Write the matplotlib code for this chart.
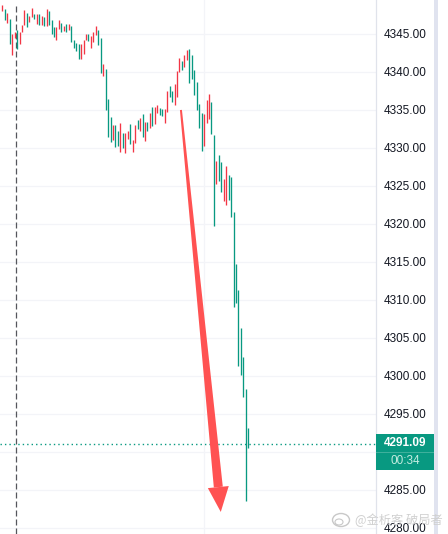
import matplotlib

matplotlib.use("Agg")
import matplotlib.pyplot as plt
import numpy as np
from matplotlib.patches import Ellipse, Polygon, Rectangle
from matplotlib.transforms import IdentityTransform, blended_transform_factory

plt.rcParams["font.family"] = ["Liberation Sans", "DejaVu Sans"]

W, H = 448, 534

# bar ranges, "R" = up candle, "G" = down candle
highs = [
    4348.8, 4348.3, 4347.8, 4347.0, 4345.0, 4345.3, 4345.5, 4345.3, 4346.2, 4348.2,
    4347.8, 4347.4, 4348.4, 4347.6, 4347.6, 4347.6, 4347.4, 4347.2, 4348.3, 4348.0,
    4346.8, 4345.9, 4345.9, 4346.8, 4346.4, 4346.0, 4346.3, 4346.3, 4346.0, 4344.2,
    4343.8, 4343.7, 4343.7, 4344.2, 4345.0, 4345.0, 4344.7, 4345.3, 4346.0, 4345.5,
    4344.5, 4341.0, 4340.4, 4336.4, 4334.1, 4333.0, 4333.0, 4332.2, 4333.3, 4332.0,
    4332.0, 4332.2, 4333.2, 4331.1, 4333.0, 4333.7, 4333.9, 4334.5, 4333.4, 4333.4,
    4334.6, 4335.4, 4335.4, 4335.7, 4335.3, 4335.1, 4335.1, 4337.5, 4338.2, 4337.5,
    4338.4, 4340.1, 4341.8, 4341.4, 4342.2, 4342.9, 4343.0, 4342.2, 4340.3, 4338.7,
    4335.8, 4334.6, 4334.5, 4336.3, 4337.1, 4336.0, 4331.7, 4328.3, 4329.1, 4328.2,
    4325.9, 4327.6, 4326.4, 4326.2, 4321.6, 4314.7, 4311.3, 4306.3, 4302.5, 4298.3,
    4293.2,
]
lows = [
    4348.0, 4346.8, 4346.4, 4343.7, 4342.2, 4344.5, 4343.0, 4343.7, 4345.3, 4346.2,
    4345.9, 4346.6, 4347.2, 4347.0, 4346.3, 4346.2, 4346.2, 4346.0, 4346.0, 4346.2,
    4345.0, 4344.6, 4344.2, 4345.7, 4345.3, 4345.4, 4345.3, 4345.5, 4344.0, 4343.2,
    4342.8, 4341.7, 4341.7, 4342.4, 4344.2, 4344.1, 4343.2, 4344.0, 4344.9, 4343.5,
    4339.9, 4339.5, 4335.0, 4331.4, 4330.8, 4331.0, 4330.1, 4330.3, 4329.5, 4330.0,
    4329.3, 4331.2, 4330.5, 4329.5, 4330.7, 4332.5, 4332.2, 4331.5, 4330.9, 4332.2,
    4332.6, 4332.9, 4333.2, 4334.6, 4334.3, 4334.2, 4333.3, 4334.7, 4336.7, 4336.1,
    4335.7, 4336.7, 4340.0, 4340.3, 4340.7, 4341.6, 4338.6, 4339.1, 4337.0, 4335.0,
    4332.6, 4329.6, 4330.3, 4333.3, 4333.8, 4331.8, 4319.7, 4325.3, 4325.7, 4324.2,
    4323.0, 4322.5, 4323.2, 4320.9, 4309.1, 4309.6, 4301.3, 4300.1, 4297.2, 4283.6,
    4290.5,
]
sides = (
    "RGRGRRGRRR" "GRRGRGRGRG" "GGRRGRGRGG" "GGRRRGRRRG" "GRGGGRGGRG"
    "RRGRRGRGRG" "RGRRGGRRGG" "RRRGRRGGGG" "GGRRRGGRGG" "RRGGGGGGGGG"
)
price_ticks = [4345, 4340, 4335, 4330, 4325, 4320, 4315, 4310, 4305, 4300, 4295, 4290, 4285, 4280]
last_price = 4291.09
countdown = "00:34"
session_bar = 5.7
grid_bar = 82
arrow_from = (72.6, 4335.0)
arrow_to = (88.8, 4282.1)

RED = "#f23645"
GREEN = "#089981"
GRID = "#f3f4f8"
BORDER = "#e0e3eb"

fig = plt.figure(figsize=(W / 100, H / 100), dpi=100, facecolor="white")
ax = fig.add_axes([0, 0, 376 / W, 1])
ax.set_xlim(-0.95, 151.9)
ax.set_ylim(4279.2, 4349.47)

# grid
for p in price_ticks:
    ax.axhline(p, color=GRID, lw=0.9, zorder=0)
ax.axvline(grid_bar, color=GRID, lw=0.9, zorder=0)

# session break
ax.axvline(session_bar, ymax=0.99, color="#55565c", lw=0.9, ls=(0, (4.8, 2.4)), zorder=1)

# bars
xs = np.arange(len(highs))
colors = [RED if s == "R" else GREEN for s in sides]
ax.vlines(xs, lows, highs, colors=colors, lw=0.95, zorder=2, capstyle="butt")

# last price line
ax.axhline(last_price, color=GREEN, lw=1.0, ls=(0, (1, 2.2)), zorder=2)

# hand drawn arrow, built in screen pixels from its two ends
p0, p1 = ax.transData.transform([arrow_from, arrow_to])
d = (p1 - p0) / np.hypot(*(p1 - p0))
n = np.array([-d[1], d[0]])
base = p1 - d * 25
shaft = [p0 + n * 1.0, p0 - n * 1.0, base - n * 4.5, base + n * 4.5]
head = [p1, base + n * 10.5, base - n * 10.5]
for pts in (shaft, head):
    ax.add_patch(Polygon(pts, closed=True, transform=IdentityTransform(),
                         facecolor="#ff5252", edgecolor="none", zorder=3, clip_on=False))

# price scale
for side in ("top", "left", "bottom"):
    ax.spines[side].set_visible(False)
ax.spines["right"].set_color(BORDER)
ax.spines["right"].set_linewidth(0.9)
ax.set_xticks([])
ax.yaxis.tick_right()
ax.set_yticks(price_ticks)
ax.set_yticklabels([f"{p:.2f}" for p in price_ticks])
ax.tick_params(axis="y", length=0, pad=5.8, labelsize=8.5, labelcolor="#131722")
trans = blended_transform_factory(ax.transAxes, ax.transData)
ax.text(1 + 8 / 376, 4350, "4350.00", transform=trans, ha="left", va="center",
        fontsize=8.5, color="#131722", clip_on=False)

# right strip and last price tag, in figure pixels
fig.add_artist(Rectangle((434 / W, 0), 4 / W, 1, transform=fig.transFigure,
                         facecolor="#e0e3ef", edgecolor="none"))
fig.add_artist(Rectangle((376 / W, 1 - 470 / H), 58 / W, 36 / H, transform=fig.transFigure,
                         facecolor=GREEN, edgecolor="none"))
fig.add_artist(Rectangle((376 / W, 1 - 452.5 / H), 58 / W, 1 / H, transform=fig.transFigure,
                         facecolor="#3fb09c", edgecolor="none"))
fig.text(405 / W, 1 - 443 / H, f"{last_price:.2f}", ha="center", va="center",
         fontsize=8.5, color="white", fontweight="bold")
fig.text(405 / W, 1 - 461 / H, countdown, ha="center", va="center",
         fontsize=8.5, color="#c4ece0")

# watermark
fig.text(355 / W, 1 - 520 / H, "@金析客 破局者", ha="left", va="center", fontsize=8.8,
         color="#d0d0d0", family=["Noto Sans CJK SC", "DejaVu Sans"], zorder=10)
fig.add_artist(Ellipse((341 / W, 1 - 520 / H), 17 / W, 13 / H, transform=fig.transFigure,
                       facecolor="none", edgecolor="#c8c8c8", lw=1.0))
fig.add_artist(Ellipse((339 / W, 1 - 522 / H), 8 / W, 6 / H, transform=fig.transFigure,
                       facecolor="none", edgecolor="#c8c8c8", lw=0.8))

fig.savefig("out.png", dpi=100)
plt.close(fig)
